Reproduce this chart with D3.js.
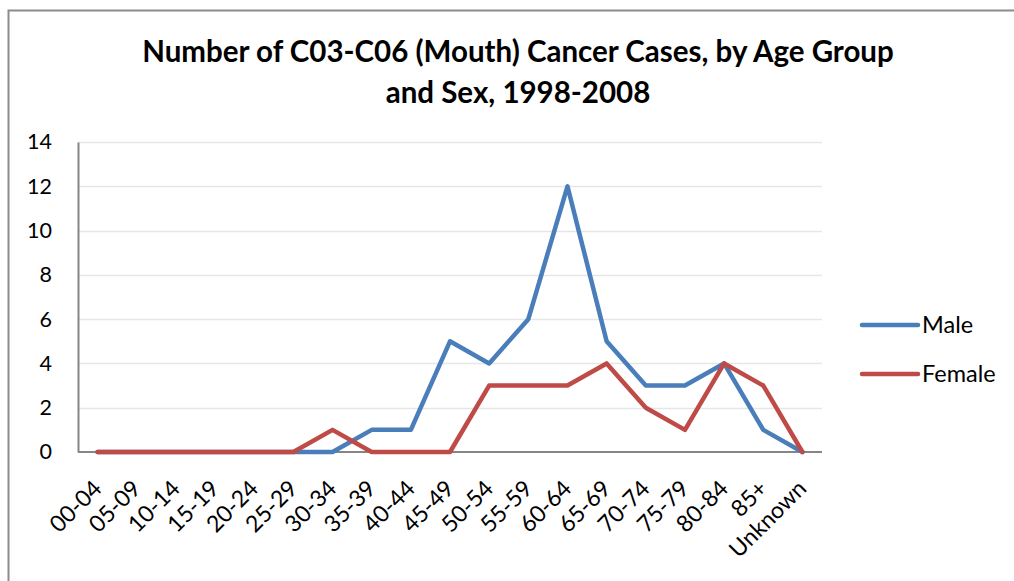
<!DOCTYPE html>
<html>
<head>
<meta charset="utf-8">
<script src="https://cdn.jsdelivr.net/npm/d3@7"></script>
<style>
    body { margin: 0; background: #fff; }
    text { font-family: Lato, "Open Sans", sans-serif; fill: #000; }
</style>
</head>
<body>
<svg id="chart"></svg>
<script>
// age groups and counts
const ageGroups = ['00-04', '05-09', '10-14', '15-19', '20-24', '25-29', '30-34', '35-39', '40-44',
    '45-49', '50-54', '55-59', '60-64', '65-69', '70-74', '75-79', '80-84', '85+', 'Unknown'];
const maleCases   = [0, 0, 0, 0, 0, 0, 0, 1, 1, 5, 4, 6, 12, 5, 3, 3, 4, 1, 0];
const femaleCases = [0, 0, 0, 0, 0, 0, 1, 0, 0, 0, 3, 3, 3, 4, 2, 1, 4, 3, 0];
const yTicks = [0, 2, 4, 6, 8, 10, 12, 14];
const seriesNames = ['Male', 'Female'];
const seriesColors = ['#4a7ebb', '#be4b48'];

const width = 1014, height = 581;
const margin = {left: 78, right: 192, top: 142, bottom: 129};
const innerW = width - margin.left - margin.right;
const innerH = height - margin.top - margin.bottom;

const svg = d3.select('#chart')
    .attr('width', width)
    .attr('height', height);

// chart area border
svg.append('path')
    .attr('d', `M8.5,${height + 5}V10.5H${width + 5}`)
    .attr('fill', 'none')
    .attr('stroke', '#8c8c8c')
    .attr('stroke-width', 2);

// title
const title = svg.append('text')
    .attr('x', 518)
    .attr('text-anchor', 'middle')
    .style('font-weight', 'bold')
    .style('font-size', '29.5px');
title.append('tspan').attr('x', 518).attr('y', 62).text('Number of C03-C06 (Mouth) Cancer Cases, by Age Group');
title.append('tspan').attr('x', 518).attr('y', 103).text('and Sex, 1998-2008');

const g = svg.append('g')
    .attr('transform', `translate(${margin.left},${margin.top})`);

const x = d3.scalePoint()
    .domain(ageGroups)
    .range([0, innerW])
    .padding(0.5);

const y = d3.scaleLinear()
    .domain([0, 14])
    .range([innerH, 0]);

// gridlines
g.append('g')
    .selectAll('line')
    .data(yTicks.filter(d => d > 0))
    .join('line')
    .attr('x1', 0)
    .attr('x2', innerW)
    .attr('y1', d => Math.round(y(d)) + 0.5)
    .attr('y2', d => Math.round(y(d)) + 0.5)
    .attr('stroke', '#e6e6e6')
    .attr('stroke-width', 1.5);

// y axis
const yAxis = d3.axisLeft(y)
    .tickValues(yTicks)
    .tickSize(0)
    .tickPadding(26);
const yAxisG = g.append('g').call(yAxis);
yAxisG.attr('font-size', null).attr('font-family', null);
yAxisG.select('.domain').attr('stroke', '#868686').attr('stroke-width', 2);
yAxisG.selectAll('text').style('font-size', '21.5px');

// x axis
const xAxis = d3.axisBottom(x).tickSize(0).tickSizeOuter(0);
const xAxisG = g.append('g')
    .attr('transform', `translate(0,${innerH})`)
    .call(xAxis);
xAxisG.attr('font-size', null).attr('font-family', null);
xAxisG.select('.domain').attr('stroke', '#868686').attr('stroke-width', 2)
    .attr('d', `M0,0H${innerW}`);
xAxisG.selectAll('text')
    .style('font-size', '23px')
    .attr('text-anchor', 'end')
    .attr('dy', 0)
    .attr('y', 0)
    .attr('transform', 'translate(5,38) rotate(-45)');

// series lines
const series = [maleCases, femaleCases];
const line = d3.line()
    .x((d, i) => x(ageGroups[i]))
    .y(d => y(d));

g.selectAll('.series')
    .data(series)
    .join('path')
    .attr('class', 'series')
    .attr('d', line)
    .attr('fill', 'none')
    .attr('stroke', (d, i) => seriesColors[i])
    .attr('stroke-width', 4.5)
    .attr('stroke-linejoin', 'round')
    .attr('stroke-linecap', 'round');

// legend
const legend = svg.append('g')
    .selectAll('g')
    .data(seriesNames)
    .join('g')
    .attr('transform', (d, i) => `translate(862,${325 + i * 49})`);
legend.append('line')
    .attr('x1', 0).attr('x2', 56)
    .attr('stroke', (d, i) => seriesColors[i])
    .attr('stroke-width', 4.5)
    .attr('stroke-linecap', 'round');
legend.append('text')
    .attr('x', 60)
    .attr('dy', '0.35em')
    .style('font-size', '23.5px')
    .text(d => d);
</script>
</body>
</html>
